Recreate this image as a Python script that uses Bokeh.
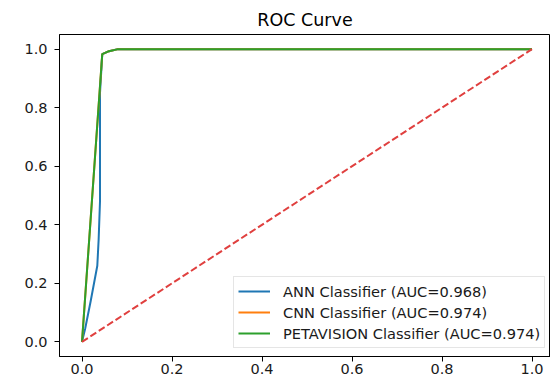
from bokeh.plotting import figure
from bokeh.models import Range1d, FixedTicker, PrintfTickFormatter, Legend, LegendItem
from bokeh.embed import file_html
from bokeh.resources import INLINE

# ROC curve data
ann_fpr = [0.0, 0.007, 0.019, 0.034, 0.037, 0.040, 0.040, 0.045, 0.060, 0.080, 1.0]
ann_tpr = [0.0, 0.045, 0.137, 0.260, 0.350, 0.480, 0.850, 0.983, 0.993, 1.000, 1.0]
cnn_fpr = [0.0, 0.045, 0.060, 0.080, 1.0]
cnn_tpr = [0.0, 0.983, 0.993, 1.000, 1.0]
pet_fpr = [0.0, 0.045, 0.060, 0.080, 1.0]
pet_tpr = [0.0, 0.983, 0.993, 1.000, 1.0]
chance_x = [0.0, 1.0]
chance_y = [0.0, 1.0]

series_labels = ["ANN Classifier (AUC=0.968)",
                 "CNN Classifier (AUC=0.974)",
                 "PETAVISION Classifier (AUC=0.974)"]
tick_values = [0.0, 0.2, 0.4, 0.6, 0.8, 1.0]

FONT = "DejaVu Sans"

p = figure(width=550, height=377, output_backend="svg", toolbar_location=None,
           x_range=Range1d(-0.05, 1.0411), y_range=Range1d(-0.05, 1.05),
           min_border_left=59, min_border_right=0, min_border_top=34, min_border_bottom=21,
           title="ROC Curve")

p.title.text_font = FONT
p.title.text_font_size = "17.5px"
p.title.text_font_style = "normal"
p.title.align = "center"
p.title.text_color = "#000000"
p.title.standoff = 9

p.xgrid.visible = False
p.ygrid.visible = False
p.outline_line_color = "#000000"
p.outline_line_width = 1

for ax in (p.xaxis[0], p.yaxis[0]):
    ax.ticker = FixedTicker(ticks=tick_values)
    ax.formatter = PrintfTickFormatter(format="%.1f")
    ax.major_label_text_font = FONT
    ax.major_label_text_font_size = "14.5px"
    ax.major_label_text_color = "#1a1a1a"
    ax.axis_line_color = "#000000"
    ax.major_tick_line_color = "#000000"
    ax.major_tick_out = 5
    ax.major_tick_in = 0
    ax.minor_tick_line_color = None
p.xaxis[0].major_label_standoff = 2
p.yaxis[0].major_label_standoff = 7

r_ann = p.line(ann_fpr, ann_tpr, line_color="#1f77b4", line_width=2)
r_cnn = p.line(cnn_fpr, cnn_tpr, line_color="#ff7f0e", line_width=2)
r_pet = p.line(pet_fpr, pet_tpr, line_color="#2ca02c", line_width=2)
p.line(chance_x, chance_y, line_color="#e0403f", line_width=2, line_dash="7 3")

legend = Legend(items=[LegendItem(label=series_labels[0], renderers=[r_ann]),
                       LegendItem(label=series_labels[1], renderers=[r_cnn]),
                       LegendItem(label=series_labels[2], renderers=[r_pet])],
                location=(174, 8), margin=0, padding=4, spacing=1,
                label_text_font=FONT, label_text_font_size="14.6px",
                label_text_color="#1a1a1a", label_height=20, glyph_height=20,
                glyph_width=32, label_standoff=13,
                border_line_color="#cccccc", border_line_width=1,
                background_fill_color="#ffffff", background_fill_alpha=0.8)
p.add_layout(legend)

open("out.html", "w").write(file_html(p, INLINE))
